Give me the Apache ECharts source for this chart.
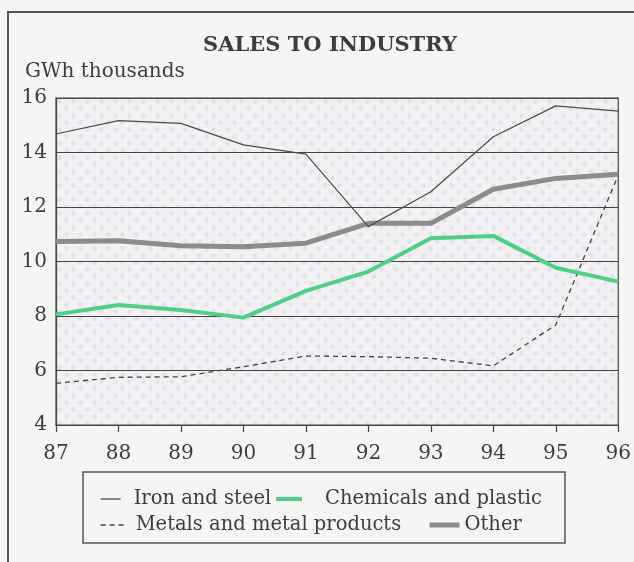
<!DOCTYPE html>
<html>
<head>
<meta charset="utf-8">
<script src="https://cdn.jsdelivr.net/npm/echarts@6/dist/echarts.min.js"></script>
<style>
  html, body { margin: 0; padding: 0; background: #f3f6f2; }
  #chart { width: 634px; height: 562px; }
</style>
</head>
<body>
<div id="chart"></div>
<script>
// Sales to industry, GWh thousands, 1987-1996
const years = ['87', '88', '89', '90', '91', '92', '93', '94', '95', '96'];
const ironSteel = [14.68, 15.17, 15.07, 14.28, 13.94, 11.28, 12.56, 14.58, 15.71, 15.52];
const chemicals = [8.06, 8.40, 8.22, 7.94, 8.92, 9.63, 10.85, 10.94, 9.77, 9.26];
const metals = [5.53, 5.75, 5.77, 6.14, 6.53, 6.51, 6.45, 6.17, 7.67, 13.17];
const other = [10.73, 10.76, 10.58, 10.54, 10.67, 11.40, 11.40, 12.65, 13.05, 13.20];

const FONT = 'DejaVu Serif';
const INK = '#3d3d3d';

// halftone-like dotted fill for the plot area
function dotPattern() {
  const c = document.createElement('canvas');
  c.width = 14; c.height = 14;
  const g = c.getContext('2d');
  g.fillStyle = '#f1f0f2';
  g.fillRect(0, 0, 14, 14);
  g.fillStyle = '#e6dee8';
  g.beginPath(); g.arc(3.5, 3.5, 2.2, 0, Math.PI * 2); g.fill();
  g.beginPath(); g.arc(10.5, 10.5, 2.2, 0, Math.PI * 2); g.fill();
  return { image: c, repeat: 'repeat' };
}

const chart = echarts.init(document.getElementById('chart'), null, { renderer: 'canvas' });

// one legend block per entry so each sits where the key box needs it
function legendAt(name, left, top, iconW, gap, lineW) {
  return {
    data: [name],
    left: left, top: top,
    padding: 0,
    itemWidth: iconW, itemHeight: 14,
    selectedMode: false,
    itemStyle: { color: 'rgba(0,0,0,0)', borderWidth: 0, opacity: 0 },
    lineStyle: { width: lineW },
    textStyle: { fontFamily: FONT, fontSize: 19.5, color: INK, padding: [0, 0, 0, gap] }
  };
}

chart.setOption({
  backgroundColor: '#f3f6f2',
  animation: false,
  title: {
    text: 'SALES TO INDUSTRY',
    left: 325, top: 30,
    textAlign: 'center',
    textStyle: { fontFamily: FONT, fontWeight: 'bold', fontSize: 21, color: INK }
  },
  grid: {
    left: 56, right: 12, top: 98, bottom: 137,
    show: true,
    backgroundColor: dotPattern(),
    borderColor: '#444', borderWidth: 1.2
  },
  legend: [
    legendAt('Iron and steel', 100, 489, 20, 8, 1.3),
    legendAt('Chemicals and plastic', 274, 489, 26, 18, 4),
    legendAt('Metals and metal products', 100, 515, 27, 3, 1.3),
    legendAt('Other', 427, 515, 30, 0, 5)
  ],
  xAxis: {
    type: 'category',
    data: years,
    boundaryGap: false,
    axisLine: { lineStyle: { color: '#444', width: 1.2 } },
    axisTick: { show: true, inside: false, length: 7, lineStyle: { color: '#444', width: 1.2 } },
    axisLabel: { fontFamily: FONT, fontSize: 20, color: INK, margin: 19 },
    splitLine: { show: false }
  },
  yAxis: {
    type: 'value',
    min: 4, max: 16, interval: 2,
    name: 'GWh thousands',
    nameLocation: 'end',
    nameGap: 16,
    nameTextStyle: { fontFamily: FONT, fontSize: 20, color: INK, align: 'left', padding: [0, 0, 0, -31] },
    axisLine: { show: true, lineStyle: { color: '#444', width: 1.2 } },
    axisTick: { show: false },
    axisLabel: { fontFamily: FONT, fontSize: 20, color: INK, margin: 9 },
    splitLine: { show: true, lineStyle: { color: '#444', width: 1.2 } }
  },
  graphic: [
    {
      type: 'polyline',
      shape: { points: [[8, 562], [8, 12], [634, 12]] },
      style: { stroke: '#555', lineWidth: 2, fill: null },
      silent: true
    },
    {
      type: 'rect',
      shape: { x: 83, y: 472, width: 482, height: 71 },
      style: { stroke: '#555', lineWidth: 1.5, fill: 'rgba(0,0,0,0)' },
      silent: true
    }
  ],
  series: [
    {
      name: 'Metals and metal products', type: 'line', data: metals,
      symbol: 'none',
      lineStyle: { color: '#444', width: 1.3, type: [5, 4] },
      itemStyle: { color: '#444' }
    },
    {
      name: 'Chemicals and plastic', type: 'line', data: chemicals,
      symbol: 'none',
      lineStyle: { color: '#4fcf85', width: 4 },
      itemStyle: { color: '#4fcf85' }
    },
    {
      name: 'Other', type: 'line', data: other,
      symbol: 'none',
      lineStyle: { color: '#8c8c8c', width: 5 },
      itemStyle: { color: '#8c8c8c' }
    },
    {
      name: 'Iron and steel', type: 'line', data: ironSteel,
      symbol: 'none',
      lineStyle: { color: '#4a4a4a', width: 1.2 },
      itemStyle: { color: '#4a4a4a' }
    }
  ]
});
</script>
</body>
</html>
